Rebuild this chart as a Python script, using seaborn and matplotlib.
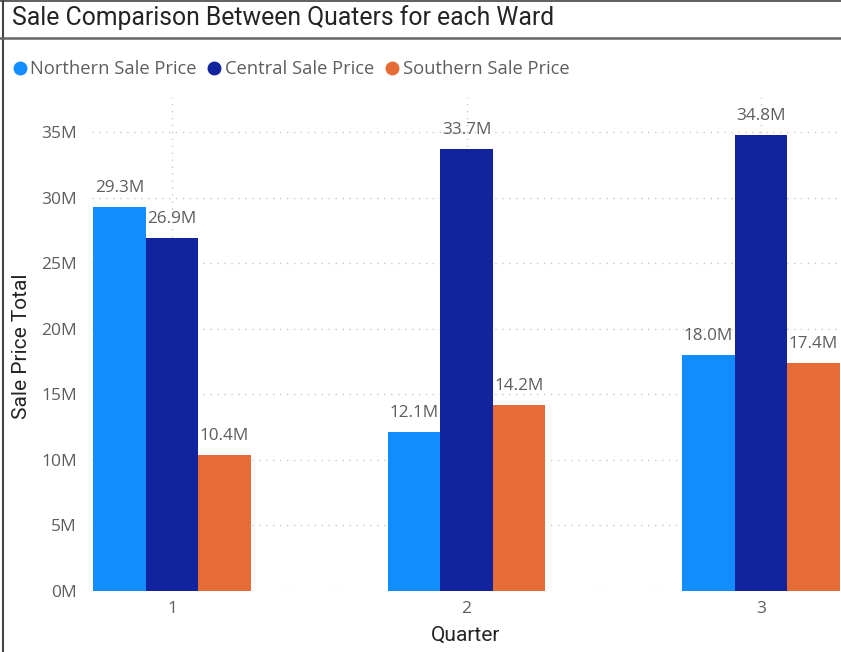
import matplotlib
matplotlib.use("Agg")
import matplotlib.pyplot as plt
from matplotlib.lines import Line2D
from matplotlib.ticker import FuncFormatter, FixedLocator
import seaborn as sns
import pandas as pd

# Quarterly sale totals per ward, in millions
quarters = ["1", "2", "3"]
wards = ["Northern Sale Price", "Central Sale Price", "Southern Sale Price"]
northern = [29.3, 12.1, 18.0]
central = [26.9, 33.7, 34.8]
southern = [10.4, 14.2, 17.4]
colors = ["#118DFF", "#12239E", "#E66C37"]
y_ticks = [0, 5, 10, 15, 20, 25, 30, 35]

df = pd.DataFrame({
    "Quarter": quarters * 3,
    "Ward": [w for w in wards for _ in quarters],
    "Sale": northern + central + southern,
})

sns.set_theme(style="white")
plt.rcParams["font.family"] = ["Open Sans", "DejaVu Sans"]

W, H = 841, 652
fig = plt.figure(figsize=(W / 100, H / 100), dpi=100)
fig.patch.set_facecolor("white")

left, right, top, bottom = 92, 841, 97, 591
ax = fig.add_axes([left / W, (H - bottom) / H, (right - left) / W, (bottom - top) / H])

sns.barplot(data=df, x="Quarter", y="Sale", hue="Ward", order=quarters,
            hue_order=wards, palette=colors, width=0.535, saturation=1,
            gap=0, ax=ax, legend=False, zorder=3, linewidth=0, edgecolor="none")

ax.set_xlim(-0.272, 2.272)
ax.set_ylim(0, 37.67)
ax.yaxis.set_major_locator(FixedLocator(y_ticks))
ax.yaxis.set_major_formatter(FuncFormatter(lambda v, _: f"{int(v)}M"))

grid_kw = dict(color="#c8c8c8", linestyle=(0, (1, 4)), linewidth=1.0)
ax.grid(axis="y", **grid_kw)
ax.grid(axis="x", **grid_kw)
ax.set_axisbelow(True)
for s in ax.spines.values():
    s.set_visible(False)

ax.tick_params(axis="both", length=0, labelcolor="#605E5C", labelsize=12.5)
ax.tick_params(axis="y", pad=11)
ax.tick_params(axis="x", pad=7)
ax.set_xlabel("")
ax.set_ylabel("")

for cont in ax.containers:
    ax.bar_label(cont, labels=[f"{v:.1f}M" for v in cont.datavalues],
                 padding=8, color="#605E5C", fontsize=12.3)

title_font = ["Roboto", "DejaVu Sans"]
fig.text(12 / W, 1 - 18 / H, "Sale Comparison Between Quaters for each Ward",
         ha="left", va="center", fontsize=17.8, color="#252423", family=title_font)
fig.text(466 / W, 1 - 635 / H, "Quarter", ha="center", va="center",
         fontsize=15, color="#252423", family=title_font)
fig.text(22 / W, 1 - 346 / H, "Sale Price Total", ha="center", va="center",
         rotation=90, fontsize=15, color="#252423", family=title_font)

handles = [Line2D([], [], marker="o", linestyle="", markersize=9,
                  markerfacecolor=c, markeredgecolor=c) for c in colors]
fig.legend(handles, wards, loc="center left", bbox_to_anchor=(9 / W, 1 - 69 / H),
           ncol=3, frameon=False, handletextpad=0.0, columnspacing=0.4,
           borderaxespad=0, borderpad=0, handlelength=1.15,
           prop={"size": 13.2}, labelcolor="#605E5C")

# frame lines: top edge, left edge and title separator
fig.add_artist(Line2D([0, 1], [1 - 1 / H, 1 - 1 / H], color="#444444", linewidth=1.2))
fig.add_artist(Line2D([3 / W, 3 / W], [0, 1], color="#444444", linewidth=1.5))
fig.add_artist(Line2D([0, 1], [1 - 37.5 / H, 1 - 37.5 / H], color="#666666", linewidth=1.8))

fig.savefig("out.png", dpi=100)
